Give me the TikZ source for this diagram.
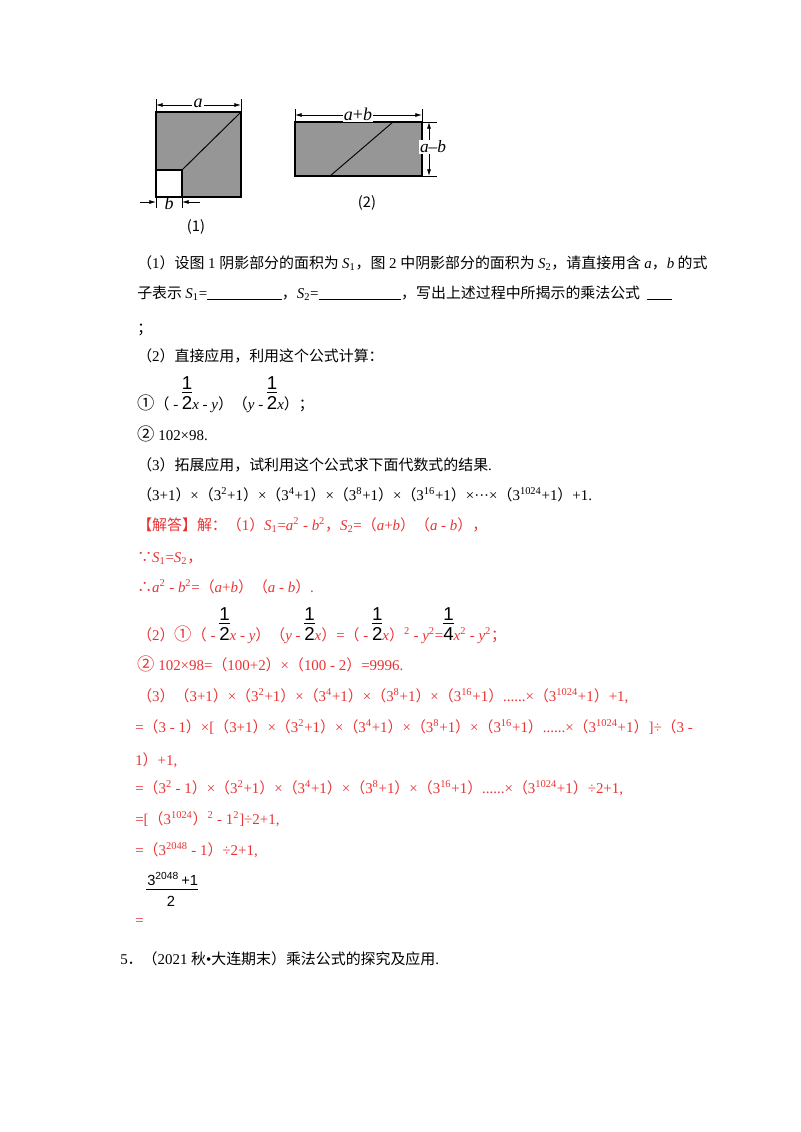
\documentclass[tikz,border=0pt]{standalone}
\usepackage{fontspec}
\setmainfont{Liberation Serif}
\newfontfamily\cjk{Noto Sans CJK SC}
\newfontfamily\sfa{Liberation Sans}
\usetikzlibrary{arrows.meta}
\definecolor{ansred}{RGB}{235,50,50}
\definecolor{boxgray}{RGB}{150,150,150}
\newcommand\T[1]{{\rmfamily #1}}
\newcommand\V[1]{{\rmfamily\itshape #1}}
\newcommand\myfr[2]{{\color{black}\sfa\fontsize{14}{14}\selectfont\rlap{\raisebox{15pt}{#1}}\rlap{\rule[12.5pt]{7.8pt}{0.6pt}}#2}}
\newcommand\sub[1]{\T{\textsubscript{#1}}}
\newcommand\sps[1]{\T{\textsuperscript{#1}}}
\newcommand\cir[1]{{\fontsize{13}{13}\selectfont #1}}
\begin{document}
\begin{tikzpicture}[x=0.75pt,y=-0.75pt,
  txt/.style={anchor=base west,inner sep=0pt,font=\cjk\fontsize{11.2}{12}\selectfont},
  ans/.style={txt,text=ansred},
  dim/.style={{Latex[length=5pt,width=3pt]}-{Latex[length=5pt,width=3pt]},line width=0.6pt},
  arr/.style={-{Latex[length=5pt,width=3pt]},line width=0.6pt},
  thin/.style={line width=0.5pt}]
\useasboundingbox (0,0) rectangle (800,1132);
% figure 1
\fill[boxgray] (156,112) rectangle (241,197);
\fill[white] (156,170) rectangle (182,197);
\draw[line width=0.8pt] (156,112) rectangle (241,197);
\draw[line width=0.8pt] (156,170) -| (182,197);
\draw[line width=0.7pt] (182,170) -- (240,113);
\draw[thin] (156,99) -- (156,112) (241,99) -- (241,112);
\coordinate (a1) at (156,105); \coordinate (a2) at (241,105);
\draw[dim] (a1) -- (a2);
\node[fill=white,inner sep=1pt,font=\itshape\fontsize{13.5}{14}\selectfont] (la) at (198,103) {a};
\draw[thin] (156,197) -- (156,208) (182,197) -- (182,208);
\coordinate (b1) at (140,202); \coordinate (b2) at (156,202);
\coordinate (b3) at (200,202); \coordinate (b4) at (182,202);
\draw[arr] (b1) -- (b2); \draw[arr] (b3) -- (b4);
\node[font=\itshape\fontsize{13.5}{14}\selectfont] (lb) at (169,203) {b};
\node[font=\cjk\fontsize{11}{12}\selectfont] (c1) at (196,227) {(1)};
% figure 2
\fill[boxgray] (295,122) rectangle (422,176);
\draw[line width=0.8pt] (295,122) rectangle (422,176);
\draw[line width=0.7pt] (330,176) -- (393,122);
\draw[thin] (295,109) -- (295,122) (422,109) -- (422,122);
\coordinate (c21) at (295,115); \coordinate (c22) at (422,115);
\draw[dim] (c21) -- (c22);
\node[fill=white,inner sep=1pt,font=\fontsize{13.5}{14}\selectfont] (lab) at (358,114) {\textit{a}+\textit{b}};
\draw[thin] (422,122) -- (437,122) (422,176) -- (437,176);
\coordinate (d1) at (429,122); \coordinate (d2) at (429,176);
\draw[dim] (d1) -- (d2);
\node[fill=white,inner sep=0.5pt,font=\fontsize{13}{14}\selectfont] (lamb) at (433,147) {\textit{a}–\textit{b}};
\node[font=\cjk\fontsize{11}{12}\selectfont] (c2) at (367,203) {(2)};
% question text
\node[txt] (q1) at (137,268) {（\T{1}）设图\T{ 1 }阴影部分的面积为 \V{S}\sub{1}，图\T{ 2 }中阴影部分的面积为 \V{S}\sub{2}，请直接用含 \V{a}，\V{b} 的式};
\node[txt] (q2) at (137,298) {子表示 \V{S}\sub{1}\T{=}\rule[-1.5pt]{56pt}{0.5pt}，\V{S}\sub{2}\T{=}\rule[-1.5pt]{62pt}{0.5pt}，写出上述过程中所揭示的乘法公式 \ \rule[-1.5pt]{19pt}{0.5pt}};
\node[txt] (q3) at (137,333) {；};
\node[txt] (q4) at (137,361) {（\T{2}）直接应用，利用这个公式计算：};
\node[txt] (q5) at (137,409) {\cir{①}（\T{ - }\myfr{1}{2}\V{x}\T{ - }\V{y}）（\V{y}\T{ - }\myfr{1}{2}\V{x}）；};
\node[txt] (q6) at (137,440) {\cir{②}\T{ 102×98.}};
\node[txt] (q7) at (137,470) {（\T{3}）拓展应用，试利用这个公式求下面代数式的结果\T{.}};
\node[txt] (q8) at (137,500) {（\T{3+1}）\T{×}（\T{3}\sps{2}\T{+1}）\T{×}（\T{3}\sps{4}\T{+1}）\T{×}（\T{3}\sps{8}\T{+1}）\T{×}（\T{3}\sps{16}\T{+1}）\T{×···×}（\T{3}\sps{1024}\T{+1}）\T{+1.}};
% answer
\node[ans] (r1) at (137,530) {【解答】解：（\T{1}）\V{S}\sub{1}\T{=}\V{a}\sps{2}\T{ - }\V{b}\sps{2}，\V{S}\sub{2}\T{=}（\V{a}\T{+}\V{b}）（\V{a}\T{ - }\V{b}），};
\node[ans] (r2) at (137,562) {∵\V{S}\sub{1}\T{=}\V{S}\sub{2}，};
\node[ans] (r3) at (137,592) {∴\V{a}\sps{2}\T{ - }\V{b}\sps{2}\T{=}（\V{a}\T{+}\V{b}）（\V{a}\T{ - }\V{b}）\T{.}};
\node[ans] (r4) at (137,640) {（\T{2}）\cir{①}（\T{ - }\myfr{1}{2}\V{x}\T{ - }\V{y}）（\V{y}\T{ - }\myfr{1}{2}\V{x}）\T{=}（\T{ - }\myfr{1}{2}\V{x}）\sps{2}\T{ - }\V{y}\sps{2}\T{=}\myfr{1}{4}\V{x}\sps{2}\T{ - }\V{y}\sps{2}；};
\node[ans] (r5) at (137,670) {\cir{②}\T{ 102×98=}（\T{100+2}）\T{×}（\T{100 - 2}）\T{=9996.}};
\node[ans] (r6) at (137,701) {（\T{3}）（\T{3+1}）\T{×}（\T{3}\sps{2}\T{+1}）\T{×}（\T{3}\sps{4}\T{+1}）\T{×}（\T{3}\sps{8}\T{+1}）\T{×}（\T{3}\sps{16}\T{+1}）\T{......×}（\T{3}\sps{1024}\T{+1}）\T{+1,}};
\node[ans] (r7) at (135,732) {\T{=}（\T{3 - 1}）\T{×[}（\T{3+1}）\T{×}（\T{3}\sps{2}\T{+1}）\T{×}（\T{3}\sps{4}\T{+1}）\T{×}（\T{3}\sps{8}\T{+1}）\T{×}（\T{3}\sps{16}\T{+1}）\T{......×}（\T{3}\sps{1024}\T{+1}）\T{]÷}（\T{3 -}};
\node[ans] (r8) at (135,765) {\T{1}）\T{+1,}};
\node[ans] (r9) at (135,793) {\T{=}（\T{3}\sps{2}\T{ - 1}）\T{×}（\T{3}\sps{2}\T{+1}）\T{×}（\T{3}\sps{4}\T{+1}）\T{×}（\T{3}\sps{8}\T{+1}）\T{×}（\T{3}\sps{16}\T{+1}）\T{......×}（\T{3}\sps{1024}\T{+1}）\T{÷2+1,}};
\node[ans] (r10) at (135,824) {\T{=[}（\T{3}\sps{1024}）\sps{2}\T{ - 1}\sps{2}\T{]÷2+1,}};
\node[ans] (r11) at (135,855) {\T{=}（\T{3}\sps{2048}\T{ - 1}）\T{÷2+1,}};
\node[anchor=base west,inner sep=0pt,font=\sfa\fontsize{11}{12}\selectfont] (fn) at (147,885) {3\textsuperscript{2048}\,+1};
\draw[line width=0.5pt] (146,889) -- (198,889);
\node[anchor=base,inner sep=0pt,font=\sfa\fontsize{11}{12}\selectfont] (fd) at (171,906) {2};
\node[ans] (r12) at (135,925) {\T{=}};
\node[txt] (q9) at (120,964) {\T{5}．（\T{2021 }秋\T{•}大连期末）乘法公式的探究及应用\T{.}};
\end{tikzpicture}
\end{document}
